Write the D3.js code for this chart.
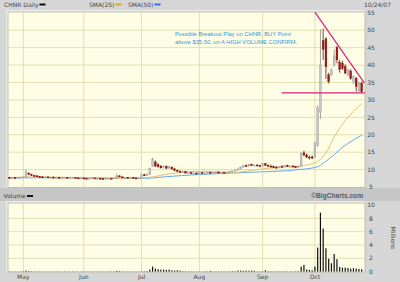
<!DOCTYPE html>
<html>
<head>
<meta charset="utf-8">
<script src="https://cdn.jsdelivr.net/npm/d3@7"></script>
<style>
  html, body { margin: 0; padding: 0; background: #d6d6d6; }
  svg { display: block; }
</style>
</head>
<body>
<div id="chart"></div>
<script>
// CHNR daily bars, one row per trading day from Apr 24 to Oct 24 2007: [open, high, low, close]
const prices = [
  // Apr 24 - Apr 30
  [7.7, 7.9, 7.5, 7.6], [7.6, 7.8, 7.5, 7.7], [7.7, 7.8, 7.4, 7.5], [7.5, 7.8, 7.5, 7.7], [7.7, 7.9, 7.6, 7.8],
  // May
  [7.8, 8.0, 7.6, 7.9], [7.9, 10.0, 7.8, 9.3], [9.0, 9.2, 8.4, 8.6], [8.6, 8.8, 8.2, 8.3], [8.3, 8.5, 8.0, 8.2],
  [8.2, 8.4, 7.9, 8.0], [8.0, 8.2, 7.8, 7.9], [7.9, 8.1, 7.7, 7.8], [7.8, 8.0, 7.6, 7.9], [7.9, 8.0, 7.6, 7.7],
  [7.7, 7.9, 7.5, 7.8], [7.8, 8.0, 7.6, 7.6], [7.6, 7.8, 7.4, 7.7], [7.7, 7.9, 7.5, 7.5], [7.5, 7.7, 7.4, 7.6],
  [7.6, 7.8, 7.5, 7.7], [7.7, 7.8, 7.4, 7.5], [7.5, 7.7, 7.4, 7.6], [7.6, 7.8, 7.5, 7.7], [7.7, 7.8, 7.5, 7.6],
  [7.6, 7.7, 7.4, 7.5], [7.5, 7.7, 7.4, 7.6],
  // Jun
  [7.6, 7.7, 7.4, 7.5], [7.5, 7.6, 7.3, 7.4], [7.4, 7.6, 7.3, 7.5], [7.5, 7.7, 7.4, 7.6], [7.6, 7.7, 7.4, 7.4],
  [7.4, 7.6, 7.3, 7.5], [7.5, 7.6, 7.3, 7.4], [7.4, 7.5, 7.2, 7.3], [7.3, 7.5, 7.2, 7.4], [7.4, 7.6, 7.3, 7.5],
  [7.5, 7.6, 7.3, 7.4], [7.4, 7.7, 7.3, 7.6], [7.6, 8.9, 7.5, 8.2], [8.2, 8.4, 7.8, 7.9], [7.9, 8.1, 7.6, 7.7],
  [7.7, 7.9, 7.5, 7.8], [7.8, 7.9, 7.5, 7.6], [7.6, 7.8, 7.4, 7.7], [7.7, 7.8, 7.5, 7.6], [7.6, 7.8, 7.4, 7.5],
  [7.5, 7.7, 7.4, 7.6],
  // Jul
  [7.6, 8.9, 7.5, 8.5], [8.5, 8.8, 8.2, 8.4], [8.4, 8.9, 8.2, 8.7], [8.7, 10.6, 8.5, 10.3], [11.0, 13.4, 10.8, 12.9],
  [12.2, 12.6, 10.8, 11.0], [11.4, 11.8, 10.6, 10.8], [11.0, 11.3, 10.3, 10.5], [10.6, 11.2, 10.3, 11.0], [10.9, 11.2, 10.2, 10.4],
  [10.5, 11.0, 10.2, 10.8], [10.7, 10.9, 10.0, 10.2], [10.2, 10.5, 9.6, 9.8], [9.8, 10.0, 9.3, 9.5], [9.5, 9.8, 9.1, 9.3],
  [9.3, 9.6, 9.0, 9.4], [9.4, 9.6, 8.9, 9.0], [9.0, 9.3, 8.7, 9.1], [9.1, 9.3, 8.8, 8.9], [8.9, 9.2, 8.7, 9.0],
  [9.0, 9.2, 8.7, 8.8],
  // Aug
  [8.8, 9.2, 8.7, 9.1], [9.1, 9.3, 8.8, 8.9], [8.9, 9.2, 8.7, 9.0], [9.0, 9.3, 8.8, 9.2], [9.2, 9.4, 8.9, 9.0],
  [9.0, 9.3, 8.8, 9.1], [9.1, 9.4, 8.9, 9.3], [9.3, 9.5, 9.0, 9.1], [9.1, 9.3, 8.9, 9.2], [9.2, 9.4, 9.0, 9.0],
  [9.0, 9.3, 8.9, 9.2], [9.2, 9.5, 9.0, 9.4], [9.4, 9.7, 9.2, 9.6], [9.6, 10.0, 9.4, 9.9], [9.9, 10.3, 9.7, 10.2],
  [10.2, 10.9, 10.0, 10.7], [10.7, 11.3, 10.5, 11.1], [11.1, 11.5, 10.8, 11.0], [11.0, 11.6, 10.9, 11.4], [11.4, 11.7, 11.0, 11.2],
  [11.2, 11.5, 10.9, 11.3], [11.3, 11.6, 11.0, 11.1], [11.1, 11.4, 10.8, 11.0],
  // Sep
  [11.0, 11.9, 10.9, 11.7], [11.7, 11.9, 11.0, 11.2], [11.2, 11.5, 10.8, 11.0], [11.0, 11.4, 10.7, 10.9], [10.9, 11.2, 10.5, 10.7],
  [10.7, 11.0, 10.4, 10.6], [10.6, 11.0, 10.4, 10.9], [10.9, 11.2, 10.6, 10.8], [10.8, 11.3, 10.6, 11.1], [11.1, 11.4, 10.8, 10.9],
  [10.9, 11.2, 10.6, 11.0], [11.0, 11.3, 10.7, 10.8], [10.8, 11.0, 10.4, 10.6], [10.6, 11.0, 10.4, 10.9], [10.9, 15.0, 10.8, 14.6],
  [14.8, 15.4, 13.8, 14.2], [14.2, 14.6, 13.3, 13.6], [13.6, 14.0, 12.9, 13.3], [13.6, 14.1, 13.0, 13.5],
  // Oct 1 - Oct 24
  [13.6, 18.0, 13.4, 17.6], [17.0, 28.5, 16.5, 27.7], [26.5, 50.3, 24.5, 40.0], [47.0, 50.5, 41.5, 44.5], [47.5, 48.0, 36.0, 39.5],
  [37.2, 37.8, 34.7, 35.2], [37.2, 39.0, 36.8, 38.6], [40.0, 44.4, 39.5, 42.6], [45.0, 45.5, 40.5, 41.5], [40.8, 41.5, 37.8, 38.8],
  [40.5, 41.2, 38.6, 39.0], [39.6, 40.2, 37.4, 37.7], [37.2, 39.0, 36.8, 38.6], [38.3, 38.8, 35.8, 36.2], [35.0, 37.0, 34.6, 36.7],
  [36.2, 36.6, 32.4, 33.8], [32.6, 35.2, 32.3, 34.8], [34.8, 35.3, 31.9, 32.4]
];

// daily volume, millions of shares
const volumes = [
  0.04, 0.03, 0.04, 0.03, 0.04,
  0.05, 0.15, 0.08, 0.05, 0.04, 0.03, 0.04, 0.03, 0.03, 0.04, 0.03, 0.03, 0.04, 0.03, 0.03, 0.04, 0.03, 0.03, 0.04, 0.03, 0.03, 0.03,
  0.03, 0.03, 0.04, 0.03, 0.03, 0.03, 0.04, 0.03, 0.03, 0.04, 0.03, 0.05, 0.12, 0.08, 0.04, 0.03, 0.03, 0.04, 0.03, 0.03, 0.03,
  0.06, 0.05, 0.08, 0.3, 0.75, 0.45, 0.35, 0.3, 0.3, 0.25, 0.3, 0.2, 0.15, 0.2, 0.15, 0.06, 0.05, 0.04, 0.05, 0.04, 0.04,
  0.04, 0.04, 0.05, 0.04, 0.1, 0.04, 0.04, 0.05, 0.04, 0.04, 0.04, 0.05, 0.06, 0.05, 0.15, 0.15, 0.12, 0.15, 0.12, 0.15, 0.13, 0.05, 0.04,
  0.05, 0.2, 0.06, 0.05, 0.04, 0.05, 0.04, 0.05, 0.05, 0.04, 0.05, 0.04, 0.05, 0.06, 0.75, 1.0, 0.3, 0.25, 0.2,
  0.75, 3.6, 8.85, 6.45, 3.5, 1.95, 1.25, 2.65, 1.85, 0.7, 0.6, 0.6, 0.55, 0.45, 0.5, 0.45, 0.4, 0.35
];

// moving averages: [trading day, price]
const sma25 = [
  [0, 7.7], [10, 7.9], [20, 7.8], [30, 7.6], [40, 7.5], [48, 7.6], [52, 7.9], [56, 8.5], [60, 9.0],
  [65, 9.4], [70, 9.5], [76, 9.3], [82, 9.2], [88, 9.8], [94, 10.4], [100, 10.8], [106, 11.1], [110, 11.7],
  [113, 12.9], [115, 14.8], [118, 19.3], [121, 23.0], [125, 26.7], [128, 29.0]
];
const sma50 = [
  [0, 7.6], [20, 7.7], [40, 7.5], [50, 7.5], [56, 7.9], [69, 8.6], [87, 9.2], [104, 9.9],
  [112, 10.8], [114, 11.8], [118, 14.3], [121, 16.4], [125, 18.5], [128, 19.9]
];

// hand-drawn annotation lines: [trading day, price]
const trendLine = [[111, 55.2], [129, 34.8]];
const buyLine = [[98.9, 32.0], [129.2, 32.0]];

const monthLabels = ['May', 'Jun', 'Jul', 'Aug', 'Sep', 'Oct'];
const monthStarts = [5, 27, 48, 69, 92, 111];
const priceTicks = [5, 10, 15, 20, 25, 30, 35, 40, 45, 50, 55];
const volumeTicks = [0, 2, 4, 6, 8, 10];
const noteLines = ['Possible Breakout Play on CHNR, BUY Point', 'above $35.50, on A HIGH VOLUME CONFIRM.'];

const W = 400;
const H = 282;
const plotLeft = 8;
const plotRight = 365;
const priceTop = 12;
const priceBottom = 187.5;
const volTop = 203;
const volBottom = 272;

const labelFont = '"DejaVu Sans", Verdana, sans-serif';
const gridColor = '#dedbae';

const svg = d3.select('#chart').append('svg')
  .attr('width', W)
  .attr('height', H);

svg.append('rect').attr('width', W).attr('height', H).attr('fill', '#d6d6d6');

const x = d3.scaleLinear().domain([-0.55, 129.2]).range([plotLeft, plotRight]);
const y = d3.scaleLinear().domain([5, 55]).range([187, 12.8]);
const vy = d3.scaleLinear().domain([0, 10]).range([271.6, 205]);

// band between the two panels
svg.append('rect')
  .attr('x', 0).attr('y', priceBottom + 0.5)
  .attr('width', W).attr('height', volTop - priceBottom - 2.5)
  .attr('fill', '#c6c6c6');

// panel frames and backgrounds
function panel(top, bottom) {
  svg.append('rect')
    .attr('x', plotLeft - 2).attr('y', top - 2)
    .attr('width', plotRight - plotLeft + 2).attr('height', bottom - top + 2)
    .attr('fill', '#ececec');
  svg.append('rect')
    .attr('x', plotLeft).attr('y', top)
    .attr('width', plotRight - plotLeft).attr('height', bottom - top)
    .attr('fill', '#fefee6')
    .attr('stroke', '#b4b4a4')
    .attr('stroke-width', 0.8);
}
panel(priceTop, priceBottom);
panel(volTop, volBottom);

// gridlines
svg.append('g').selectAll('line')
  .data(priceTicks.filter(t => t > 5 && t < 55))
  .join('line')
  .attr('x1', plotLeft).attr('x2', plotRight)
  .attr('y1', d => y(d)).attr('y2', d => y(d))
  .attr('stroke', gridColor).attr('stroke-width', 0.9);

svg.append('g').selectAll('line')
  .data(volumeTicks.filter(t => t > 0 && t < 10))
  .join('line')
  .attr('x1', plotLeft).attr('x2', plotRight)
  .attr('y1', d => vy(d)).attr('y2', d => vy(d))
  .attr('stroke', gridColor).attr('stroke-width', 0.9);

[[priceTop, priceBottom], [volTop, volBottom]].forEach(([t, b]) => {
  svg.append('g').selectAll('line')
    .data(monthStarts)
    .join('line')
    .attr('x1', d => x(d)).attr('x2', d => x(d))
    .attr('y1', t).attr('y2', b)
    .attr('stroke', gridColor).attr('stroke-width', 0.9);
});

// moving averages
const maLine = d3.line()
  .x(d => x(d[0]))
  .y(d => y(d[1]))
  .curve(d3.curveMonotoneX);

svg.append('path').datum(sma50)
  .attr('d', maLine)
  .attr('fill', 'none').attr('stroke', '#6aaae6').attr('stroke-width', 1);
svg.append('path').datum(sma25)
  .attr('d', maLine)
  .attr('fill', 'none').attr('stroke', '#e0c078').attr('stroke-width', 1);

// candles
const candles = svg.append('g').selectAll('g')
  .data(prices)
  .join('g');

const isUp = d => d[3] >= d[0];
const bodyW = 1.8;

candles.append('line')
  .attr('x1', (d, i) => x(i)).attr('x2', (d, i) => x(i))
  .attr('y1', d => y(d[1])).attr('y2', d => y(d[2]))
  .attr('stroke', d => (isUp(d) ? '#8c8c8c' : '#7a1010'))
  .attr('stroke-width', 0.8);

candles.append('rect')
  .attr('x', (d, i) => x(i) - bodyW / 2)
  .attr('width', bodyW)
  .attr('y', d => y(Math.max(d[0], d[3])))
  .attr('height', d => Math.max(1, Math.abs(y(d[0]) - y(d[3]))))
  .attr('fill', d => (isUp(d) ? '#c6c6c6' : '#a01a1a'))
  .attr('stroke', d => (isUp(d) ? '#9a9a9a' : '#801010'))
  .attr('stroke-width', 0.4);

// volume bars
svg.append('g').selectAll('rect')
  .data(volumes)
  .join('rect')
  .attr('x', (d, i) => x(i) - 0.6)
  .attr('width', 1.2)
  .attr('y', d => vy(d))
  .attr('height', d => vy(0) - vy(d))
  .attr('fill', '#111');

// annotation lines
const plainLine = d3.line().x(d => x(d[0])).y(d => y(d[1]));
[trendLine, buyLine].forEach(l => {
  svg.append('path').datum(l)
    .attr('d', plainLine)
    .attr('fill', 'none')
    .attr('stroke', '#d8207c')
    .attr('stroke-width', 1.2);
});

// annotation text
svg.append('g').selectAll('text')
  .data(noteLines)
  .join('text')
  .attr('x', 175)
  .attr('y', (d, i) => 36.4 + i * 8)
  .attr('font-family', '"Liberation Sans", Arial, sans-serif')
  .attr('font-size', 5.8)
  .attr('fill', '#3b94d6')
  .text(d => d);

// axis labels
const labels = svg.append('g')
  .attr('font-family', labelFont)
  .attr('font-size', 6)
  .attr('fill', '#444');

labels.selectAll('.price-tick')
  .data(priceTicks)
  .join('text')
  .attr('class', 'price-tick')
  .attr('x', 371)
  .attr('y', d => y(d) + 2.2)
  .attr('text-anchor', 'middle')
  .text(d => d);

labels.selectAll('.vol-tick')
  .data(volumeTicks)
  .join('text')
  .attr('class', 'vol-tick')
  .attr('x', 371)
  .attr('y', d => vy(d) + 2.2)
  .attr('text-anchor', 'middle')
  .text(d => d);

labels.selectAll('.month')
  .data(monthLabels)
  .join('text')
  .attr('class', 'month')
  .attr('x', (d, i) => x(monthStarts[i]))
  .attr('y', 279.2)
  .attr('text-anchor', 'middle')
  .text(d => d);

labels.append('text')
  .attr('transform', 'translate(391,238) rotate(90)')
  .attr('text-anchor', 'middle')
  .text('Millions');

// header legend
labels.append('text').attr('x', 4).attr('y', 6.8).text('CHNR Daily');
labels.append('text').attr('x', 89).attr('y', 6.8).text('SMA(25)');
labels.append('text').attr('x', 128).attr('y', 6.8).text('SMA(50)');
labels.append('text').attr('x', 391).attr('y', 6.8).attr('text-anchor', 'end').text('10/24/07');
labels.append('text').attr('x', 3.5).attr('y', 198.2).text('Volume');

const swatches = [[39.5, 4.5, '#111'], [115.5, 4.5, '#e0a020'], [154.5, 4.5, '#2f6fe0'], [27, 196, '#111']];
svg.append('g').selectAll('rect')
  .data(swatches)
  .join('rect')
  .attr('x', d => d[0]).attr('y', d => d[1] - 1)
  .attr('width', 6).attr('height', 2)
  .attr('fill', d => d[2]);

svg.append('text')
  .attr('x', 363).attr('y', 198.4)
  .attr('text-anchor', 'end')
  .attr('font-family', '"Liberation Sans", Arial, sans-serif')
  .attr('font-weight', 'bold')
  .attr('font-size', 6.6)
  .attr('fill', '#5a5a5a')
  .text('\u00a9BigCharts.com');
</script>
</body>
</html>
